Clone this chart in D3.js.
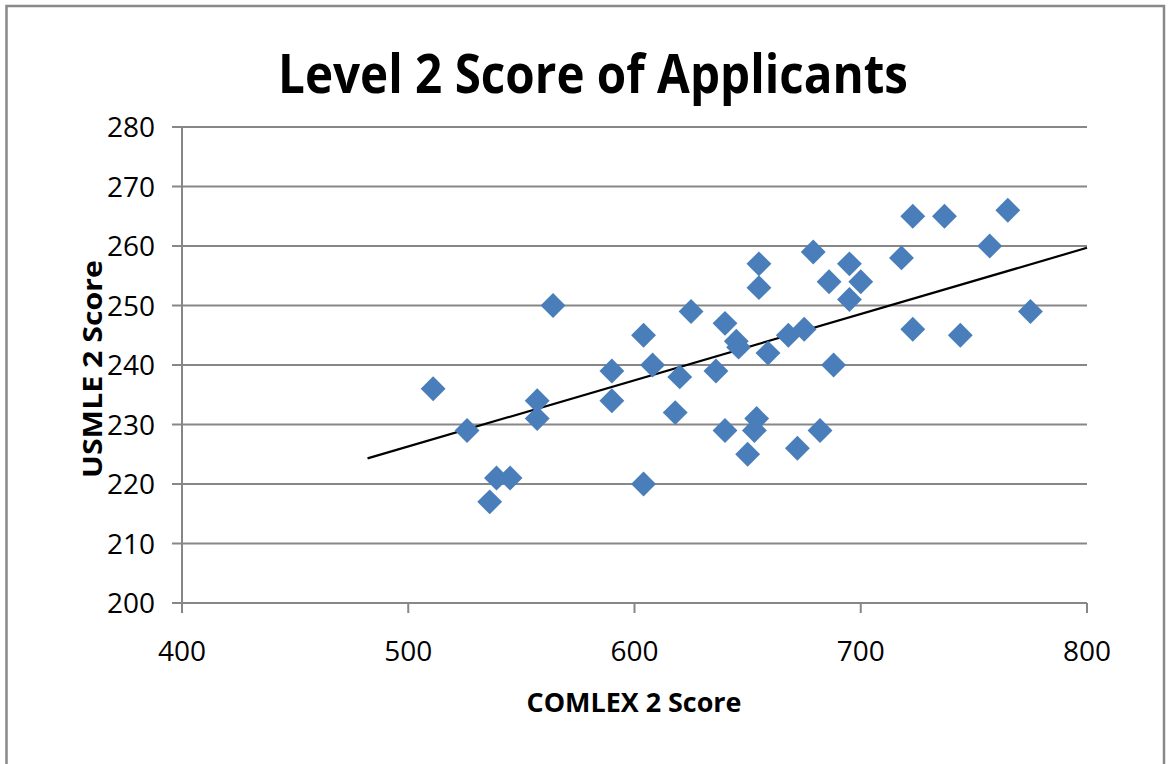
<!DOCTYPE html>
<html>
<head>
<meta charset="utf-8">
<script src="https://cdn.jsdelivr.net/npm/d3@7"></script>
<style>
  body { margin: 0; background: #fff; }
  text { font-family: "Open Sans", "Liberation Sans", sans-serif; fill: #000; }
</style>
</head>
<body>
<script>
// COMLEX 2 (x) and USMLE 2 (y) scores
const comlex = [511, 526, 536, 539, 545, 557, 557, 564, 590, 590, 604, 604, 608, 620, 618,
  625, 636, 640, 645, 646, 640, 650, 653, 654, 655, 655, 659, 668, 675, 672,
  679, 682, 686, 688, 695, 695, 700, 718, 723, 723, 737, 744, 757, 765, 775];
const usmle = [236, 229, 217, 221, 221, 234, 231, 250, 239, 234, 245, 220, 240, 238, 232,
  249, 239, 247, 244, 243, 229, 225, 229, 231, 257, 253, 242, 245, 246, 226,
  259, 229, 254, 240, 257, 251, 254, 258, 265, 246, 265, 245, 260, 266, 249];

// linear trendline end points
const trendX = [482, 800];
const trendY = [224.3, 259.7];

const xTicks = [400, 500, 600, 700, 800];
const yTicks = [200, 210, 220, 230, 240, 250, 260, 270, 280];

const width = 1173;
const height = 764;
const margin = { top: 127, right: 86, bottom: 161, left: 182 };

const svg = d3.select('body')
  .append('svg')
  .attr('width', width)
  .attr('height', height);

// outer chart border
svg.append('rect')
  .attr('x', 6.5)
  .attr('y', 6)
  .attr('width', 1157.5)
  .attr('height', 820)
  .attr('fill', 'none')
  .attr('stroke', '#898989')
  .attr('stroke-width', 2.5);

const x = d3.scaleLinear()
  .domain([400, 800])
  .range([margin.left, width - margin.right]);

const y = d3.scaleLinear()
  .domain([200, 280])
  .range([height - margin.bottom, margin.top]);

// horizontal gridlines (extend left as tick marks)
svg.append('g')
  .selectAll('line')
  .data(yTicks)
  .join('line')
  .attr('x1', margin.left - 10)
  .attr('x2', x(800))
  .attr('y1', d => y(d))
  .attr('y2', d => y(d))
  .attr('stroke', '#878787')
  .attr('stroke-width', 2);

// y axis line
svg.append('line')
  .attr('x1', x(400)).attr('x2', x(400))
  .attr('y1', y(280)).attr('y2', y(200) + 10)
  .attr('stroke', '#878787')
  .attr('stroke-width', 2);

// x tick marks
svg.append('g')
  .selectAll('line')
  .data(xTicks)
  .join('line')
  .attr('x1', d => x(d))
  .attr('x2', d => x(d))
  .attr('y1', y(200))
  .attr('y2', y(200) + 10)
  .attr('stroke', '#878787')
  .attr('stroke-width', 2);

// tick labels
svg.append('g')
  .selectAll('text')
  .data(yTicks)
  .join('text')
  .attr('x', 155)
  .attr('y', d => y(d))
  .attr('dy', '0.36em')
  .attr('text-anchor', 'end')
  .style('font-size', '28px')
  .text(d => d);

svg.append('g')
  .selectAll('text')
  .data(xTicks)
  .join('text')
  .attr('x', d => x(d))
  .attr('y', 661)
  .attr('text-anchor', 'middle')
  .style('font-size', '28px')
  .text(d => d);

// trendline
svg.append('line')
  .attr('x1', x(trendX[0]))
  .attr('y1', y(trendY[0]))
  .attr('x2', x(trendX[1]))
  .attr('y2', y(trendY[1]))
  .attr('stroke', '#000')
  .attr('stroke-width', 2.2);

// diamonds
const points = comlex.map((c, i) => ({ c, u: usmle[i] }));
svg.append('g')
  .selectAll('path')
  .data(points)
  .join('path')
  .attr('transform', d => `translate(${x(d.c)},${y(d.u)}) rotate(45)`)
  .attr('d', d3.symbol().type(d3.symbolSquare).size(310))
  .attr('fill', '#4a7ebb');

// title
svg.append('text')
  .attr('x', 593)
  .attr('y', 93)
  .attr('text-anchor', 'middle')
  .attr('textLength', 630)
  .attr('lengthAdjust', 'spacingAndGlyphs')
  .style('font-size', '54px')
  .style('font-weight', 'bold')
  .text('Level 2 Score of Applicants');

// axis titles
svg.append('text')
  .attr('x', 634)
  .attr('y', 712)
  .attr('text-anchor', 'middle')
  .attr('textLength', 215)
  .attr('lengthAdjust', 'spacingAndGlyphs')
  .style('font-size', '27px')
  .style('font-weight', 'bold')
  .text('COMLEX 2 Score');

svg.append('text')
  .attr('transform', 'translate(102,369) rotate(-90)')
  .attr('text-anchor', 'middle')
  .attr('textLength', 218)
  .attr('lengthAdjust', 'spacingAndGlyphs')
  .style('font-size', '27px')
  .style('font-weight', 'bold')
  .text('USMLE 2 Score');
</script>
</body>
</html>
